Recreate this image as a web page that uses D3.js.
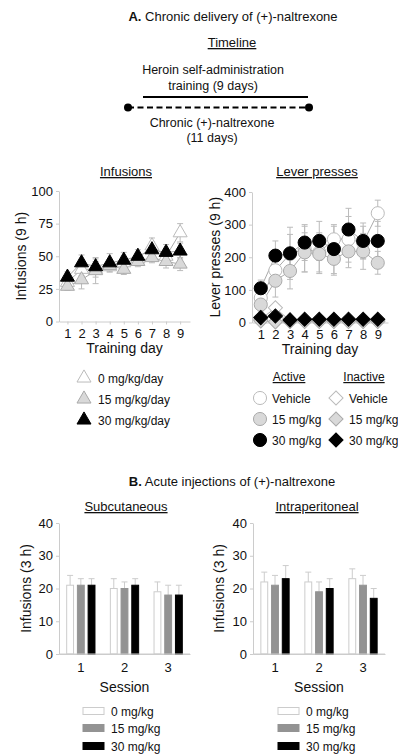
<!DOCTYPE html>
<html lang="en">
<head>
<meta charset="UTF-8">
<title>Naltrexone</title>
<script src="https://d3js.org/d3.v7.min.js"></script>
<style>
body,html{margin:0;padding:0;background:#fff;}
text{font-family:"Liberation Sans",Arial,sans-serif;fill:#111;}
</style>
</head>
<body>
<svg width="398" height="756"></svg>
<script>
// ---- data ----
const days = [1,2,3,4,5,6,7,8,9];
const infGroups = ["0 mg/kg/day","15 mg/kg/day","30 mg/kg/day"];
const infMean = [
  [30,40,40,42,45,48,58,50,68],
  [27,32,39,43,40,46,49,46,44],
  [34,45,42,45,47,50,55,53,54]
];
const infErr = [
  [4,5,6,4,5,5,6,6,7],
  [3,7,10,4,4,4,4,5,5],
  [4,6,6,7,6,5,6,6,6]
];
const leverGroups = ["Vehicle","15 mg/kg","30 mg/kg"];
const activeMean = [
  [75,160,210,225,215,255,255,245,335],
  [55,128,158,215,210,195,218,218,183],
  [105,205,212,245,250,225,285,250,250]
];
const activeErr = [
  [30,50,60,70,60,40,70,50,40],
  [20,50,55,60,60,50,50,55,35],
  [25,45,80,55,60,75,65,55,60]
];
const inactiveMean = [
  [10,45,5,5,5,5,5,5,5],
  [5,2,3,3,3,3,3,3,3],
  [15,20,8,10,10,10,10,10,10]
];
const sessions = [1,2,3];
const barGroups = ["0 mg/kg","15 mg/kg","30 mg/kg"];
const scMean = [[21,20,19],[21,20,18],[21,21,18]];
const scErr = [[3,3,3],[2,2,3],[2,2,3]];
const ipMean = [[22,22,23],[21,19,21],[23,20,17]];
const ipErr = [[3,3,3],[3,3,3],[4,3,3]];

const fills = ["#ffffff","#d9d9d9","#000000"];
const strokes = ["#bbbbbb","#aaaaaa","#000000"];
const barFills = ["#ffffff","#939393","#000000"];
const barStrokes = ["#cccccc","#939393","#000000"];
const axisColor = "#cccccc";

const svg = d3.select("svg");

function txt(x, y, s, size, opts) {
  opts = opts || {};
  const t = svg.append("text")
    .attr("x", x).attr("y", y)
    .attr("font-size", size)
    .attr("text-anchor", opts.anchor || "middle")
    .text(s);
  if (opts.underline) t.attr("text-decoration", "underline");
  if (opts.rotate) t.attr("transform", `rotate(-90,${x},${y})`);
  return t;
}

function styleAxis(g) {
  g.selectAll("path,line").attr("stroke", axisColor);
  g.selectAll("text").attr("font-size", 13).attr("fill", "#111")
    .style("font-family", '"Liberation Sans",Arial,sans-serif');
}

// square turned 45deg, as in the reference (d3.symbolDiamond is too tall)
function markerPath(type, size) {
  if (type === "diamond") return d3.symbol().type(d3.symbolSquare).size(size)();
  return d3.symbol().type(type).size(size)();
}
function markerRot(type) { return type === "diamond" ? " rotate(45)" : ""; }

// ---- headings / timeline ----
const titleA = svg.append("text").attr("x", 233).attr("y", 21).attr("font-size", 13).attr("text-anchor", "middle");
titleA.append("tspan").attr("font-weight", "bold").text("A.");
titleA.append("tspan").text(" Chronic delivery of (+)-naltrexone");

txt(232, 47, "Timeline", 13, {underline: true});
txt(213, 74, "Heroin self-administration", 12.5);
txt(213, 90, "training (9 days)", 12.5);
svg.append("line").attr("x1", 143).attr("x2", 308).attr("y1", 97).attr("y2", 97)
  .attr("stroke", "#000").attr("stroke-width", 2);
svg.append("line").attr("x1", 128).attr("x2", 309).attr("y1", 107.5).attr("y2", 107.5)
  .attr("stroke", "#000").attr("stroke-width", 2).attr("stroke-dasharray", "6,3.5");
svg.append("circle").attr("cx", 128).attr("cy", 107.5).attr("r", 4);
svg.append("circle").attr("cx", 309).attr("cy", 107.5).attr("r", 4);
txt(212, 127, "Chronic (+)-naltrexone", 12.5);
txt(212, 142, "(11 days)", 12.5);

txt(126, 176, "Infusions", 13, {underline: true});
txt(317, 176, "Lever presses", 13, {underline: true});

// ---- line chart helper ----
function lineChart(x0, x1, yTop, yBot, yMax, yTicks, ylab, ylabX) {
  const x = d3.scaleLinear().domain([0.4, 9.7]).range([x0, x1]);
  const y = d3.scaleLinear().domain([0, yMax]).range([yBot, yTop]);
  const gx = svg.append("g").attr("transform", `translate(0,${yBot})`)
    .call(d3.axisBottom(x).tickValues(days).tickSize(3).tickSizeOuter(0).tickPadding(4));
  styleAxis(gx);
  const gy = svg.append("g").attr("transform", `translate(${x0},0)`)
    .call(d3.axisLeft(y).tickValues(yTicks).tickSize(3).tickSizeOuter(0).tickPadding(3));
  styleAxis(gy);
  txt((x0 + x1) / 2, yBot + 31, "Training day", 14);
  txt(ylabX, (yTop + yBot) / 2, ylab, 14, {rotate: true}).attr("dominant-baseline", "middle");
  return {x, y};
}

function errBars(sc, mean, err) {
  const g = svg.append("g").attr("stroke", "#bbbbbb").attr("stroke-width", 1);
  days.forEach((d, i) => {
    const cx = sc.x(d), lo = sc.y(mean[i] - err[i]), hi = sc.y(mean[i] + err[i]);
    g.append("line").attr("x1", cx).attr("x2", cx).attr("y1", lo).attr("y2", hi);
    g.append("line").attr("x1", cx - 3).attr("x2", cx + 3).attr("y1", lo).attr("y2", lo);
    g.append("line").attr("x1", cx - 3).attr("x2", cx + 3).attr("y1", hi).attr("y2", hi);
  });
}

function seriesLine(sc, mean) {
  svg.append("path").datum(mean)
    .attr("fill", "none").attr("stroke", "#aaaaaa").attr("stroke-width", 1)
    .attr("d", d3.line().x((v, i) => sc.x(days[i])).y(v => sc.y(v)));
}

function markers(sc, mean, type, size, k) {
  svg.append("g").selectAll("path").data(mean).join("path")
    .attr("transform", (v, i) => `translate(${sc.x(days[i])},${sc.y(v)})` + markerRot(type))
    .attr("d", markerPath(type, size))
    .attr("fill", fills[k]).attr("stroke", strokes[k]).attr("stroke-width", 1);
}

// Infusions (9 h)
const inf = lineChart(59, 190, 191, 321.5, 100, [0,25,50,75,100], "Infusions (9 h)", 22);
for (let k = 0; k < 3; k++) errBars(inf, infMean[k], infErr[k]);
for (let k = 0; k < 3; k++) seriesLine(inf, infMean[k]);
for (let k = 0; k < 3; k++) markers(inf, infMean[k], d3.symbolTriangle, 85, k);

// Lever presses (9 h)
const lev = lineChart(252, 388, 192, 322.5, 400, [0,100,200,300,400], "Lever presses (9 h)", 216);
for (let k = 0; k < 3; k++) errBars(lev, activeMean[k], activeErr[k]);
for (let k = 0; k < 3; k++) seriesLine(lev, activeMean[k]);
for (let k = 0; k < 3; k++) seriesLine(lev, inactiveMean[k]);
for (let k = 0; k < 3; k++) markers(lev, activeMean[k], d3.symbolCircle, 135, k);
for (let k = 0; k < 3; k++) markers(lev, inactiveMean[k], "diamond", 100, k);

// Legends (top)
const legY1 = [378, 399, 420];
legY1.forEach((ly, k) => {
  svg.append("path").attr("transform", `translate(84,${ly})`)
    .attr("d", d3.symbol().type(d3.symbolTriangle).size(85))
    .attr("fill", fills[k]).attr("stroke", strokes[k]);
  txt(98, ly + 4.5, infGroups[k], 12, {anchor: "start"});
});
txt(289, 381, "Active", 12, {underline: true});
txt(364, 381, "Inactive", 12, {underline: true});
const legY2 = [398, 419, 440];
legY2.forEach((ly, k) => {
  svg.append("path").attr("transform", `translate(260,${ly})`)
    .attr("d", d3.symbol().type(d3.symbolCircle).size(135))
    .attr("fill", fills[k]).attr("stroke", strokes[k]);
  txt(272, ly + 4.5, leverGroups[k], 12, {anchor: "start"});
  svg.append("path").attr("transform", `translate(336,${ly}) rotate(45)`)
    .attr("d", markerPath("diamond", 100))
    .attr("fill", fills[k]).attr("stroke", strokes[k]);
  txt(349, ly + 4.5, leverGroups[k], 12, {anchor: "start"});
});

// ---- section B ----
const titleB = svg.append("text").attr("x", 232).attr("y", 486).attr("font-size", 13).attr("text-anchor", "middle");
titleB.append("tspan").attr("font-weight", "bold").text("B.");
titleB.append("tspan").text(" Acute injections of (+)-naltrexone");
txt(126, 511, "Subcutaneous", 13, {underline: true});
txt(317, 511, "Intraperitoneal", 13, {underline: true});

function barChart(x0, x1, mean, err, ylabX, legX) {
  const yTop = 523, yBot = 654;
  const x = d3.scaleBand().domain(sessions).range([x0, x1]).padding(0);
  const y = d3.scaleLinear().domain([0, 40]).range([yBot, yTop]);
  const gx = svg.append("g").attr("transform", `translate(0,${yBot})`)
    .call(d3.axisBottom(x).tickSize(0).tickSizeOuter(0).tickPadding(9));
  styleAxis(gx);
  const gy = svg.append("g").attr("transform", `translate(${x0},0)`)
    .call(d3.axisLeft(y).tickValues([0,10,20,30,40]).tickSize(3).tickSizeOuter(0).tickPadding(3));
  styleAxis(gy);
  sessions.forEach((s, j) => {
    const c = x(s) + x.bandwidth() / 2;
    const inner = d3.scaleBand().domain([0,1,2]).range([c - 18, c + 18]).padding(0.36);
    for (let k = 0; k < 3; k++) {
      const bx = inner(k), bw = inner.bandwidth(), cx = bx + bw / 2;
      const top = y(mean[k][j]), et = y(mean[k][j] + err[k][j]);
      svg.append("line").attr("x1", cx).attr("x2", cx).attr("y1", top).attr("y2", et).attr("stroke", axisColor);
      svg.append("line").attr("x1", cx - 3).attr("x2", cx + 3).attr("y1", et).attr("y2", et).attr("stroke", axisColor);
      svg.append("rect").attr("x", bx).attr("y", top).attr("width", bw).attr("height", yBot - top)
        .attr("fill", barFills[k]).attr("stroke", barStrokes[k]).attr("stroke-width", 1);
    }
  });
  svg.append("line").attr("x1", x0).attr("x2", x1).attr("y1", yBot).attr("y2", yBot).attr("stroke", axisColor);
  txt((x0 + x1) / 2, 692, "Session", 14);
  txt(ylabX, (yTop + yBot) / 2, "Infusions (3 h)", 14, {rotate: true}).attr("dominant-baseline", "middle");
  [711, 728, 746].forEach((ly, k) => {
    svg.append("rect").attr("x", legX).attr("y", ly - 3.5).attr("width", 21).attr("height", 7)
      .attr("fill", barFills[k]).attr("stroke", barStrokes[k]);
    txt(legX + 28, ly + 4.5, barGroups[k], 12, {anchor: "start"});
  });
}

barChart(59, 190, scMean, scErr, 27, 83);
barChart(253, 385, ipMean, ipErr, 220, 278);
</script>
</body>
</html>
